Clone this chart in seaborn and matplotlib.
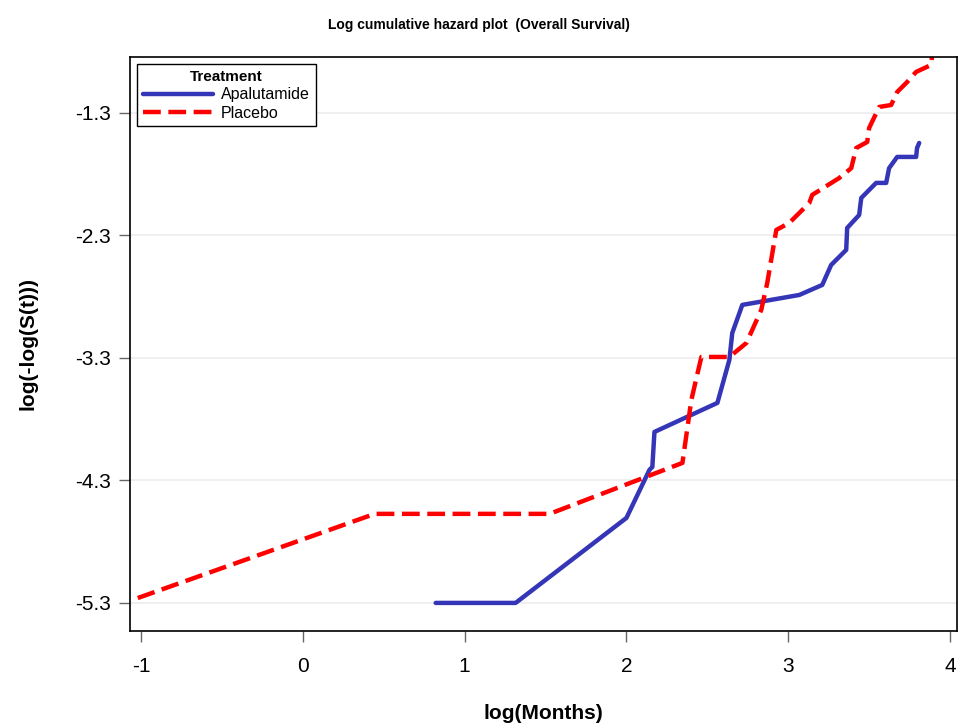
"""
Log cumulative hazard plot (overall survival), apalutamide vs placebo
"""

import matplotlib
matplotlib.use("Agg")
import matplotlib.pyplot as plt
import pandas as pd
import seaborn as sns

# values
apa_x = [0.821, 1.315, 2.000, 2.142, 2.160, 2.173, 2.562, 2.636, 2.654, 2.716,
         3.068, 3.210, 3.265, 3.358, 3.364, 3.438, 3.451, 3.543, 3.605, 3.623,
         3.673, 3.790, 3.796, 3.809]
apa_y = [-5.30, -5.30, -4.606, -4.214, -4.19, -3.904, -3.667, -3.316, -3.096, -2.867,
         -2.786, -2.704, -2.541, -2.418, -2.239, -2.133, -1.994, -1.871, -1.871, -1.751,
         -1.659, -1.659, -1.586, -1.545]

pla_x = [-1.02, 0.444, 1.525, 2.346, 2.401, 2.463, 2.636, 2.741, 2.833, 2.870,
         2.926, 3.006, 3.130, 3.148, 3.315, 3.389, 3.420, 3.488, 3.500, 3.562,
         3.636, 3.673, 3.735, 3.790, 3.883, 3.889]
pla_y = [-5.26, -4.573, -4.573, -4.157, -3.643, -3.292, -3.292, -3.178, -2.908, -2.688,
         -2.255, -2.198, -2.035, -1.969, -1.831, -1.751, -1.586, -1.537, -1.422, -1.251,
         -1.235, -1.129, -1.047, -0.965, -0.908, -0.827]

groups = ["Apalutamide", "Placebo"]
x_ticks = [-1, 0, 1, 2, 3, 4]
y_ticks = [-1.3, -2.3, -3.3, -4.3, -5.3]

df = pd.concat([
    pd.DataFrame({"logm": apa_x, "lls": apa_y, "Treatment": groups[0]}),
    pd.DataFrame({"logm": pla_x, "lls": pla_y, "Treatment": groups[1]}),
], ignore_index=True)

sns.set_style("white")
plt.rcParams["font.family"] = ["Liberation Sans", "DejaVu Sans"]
plt.rcParams["text.color"] = "black"
plt.rcParams["axes.labelcolor"] = "black"
plt.rcParams["xtick.color"] = "black"
plt.rcParams["ytick.color"] = "black"

fig = plt.figure(figsize=(9.58, 7.24), dpi=100)
ax = fig.add_axes([0.1357, 0.1285, 0.8633, 0.7928])

sns.lineplot(
    data=df, x="logm", y="lls", hue="Treatment", style="Treatment",
    palette={"Apalutamide": "#3535B8", "Placebo": "#FF0000"},
    dashes={"Apalutamide": "", "Placebo": (4, 1.7)},
    sort=False, estimator=None, linewidth=3.2, ax=ax,
)

ax.set_xlim(-1.068, 4.043)
ax.set_ylim(-5.529, -0.843)
ax.set_xticks(x_ticks)
ax.set_xticklabels([str(t) for t in x_ticks])
ax.set_yticks(y_ticks)
ax.set_yticklabels([str(t) for t in y_ticks])
ax.tick_params(axis="both", bottom=True, left=True, direction="out", length=8,
               width=1, color="#666666", labelcolor="black", labelsize=15)
ax.tick_params(axis="x", pad=11)
ax.tick_params(axis="y", pad=6)
ax.yaxis.grid(True, color="#ececec", linewidth=1.2)
ax.set_axisbelow(True)
for s in ax.spines.values():
    s.set_color("black")
    s.set_linewidth(1.2)

ax.set_xlabel("log(Months)", fontsize=15, fontweight="bold", labelpad=20)
ax.set_ylabel("log(-log(S(t)))", fontsize=15, fontweight="bold", labelpad=27)
fig.suptitle("Log cumulative hazard plot  (Overall Survival)", fontsize=10,
             fontweight="bold", y=0.975)

leg = ax.legend(title="Treatment", loc="upper left", fontsize=11.5,
                title_fontproperties={"weight": "bold", "size": 11},
                frameon=True, fancybox=False, borderaxespad=0.45,
                handlelength=4.4, handletextpad=0.5, borderpad=0.35,
                labelspacing=0.22)
leg.get_frame().set_edgecolor("black")
leg.get_frame().set_linewidth(1.0)
leg.get_frame().set_alpha(1)

fig.savefig("out.png", dpi=100)
